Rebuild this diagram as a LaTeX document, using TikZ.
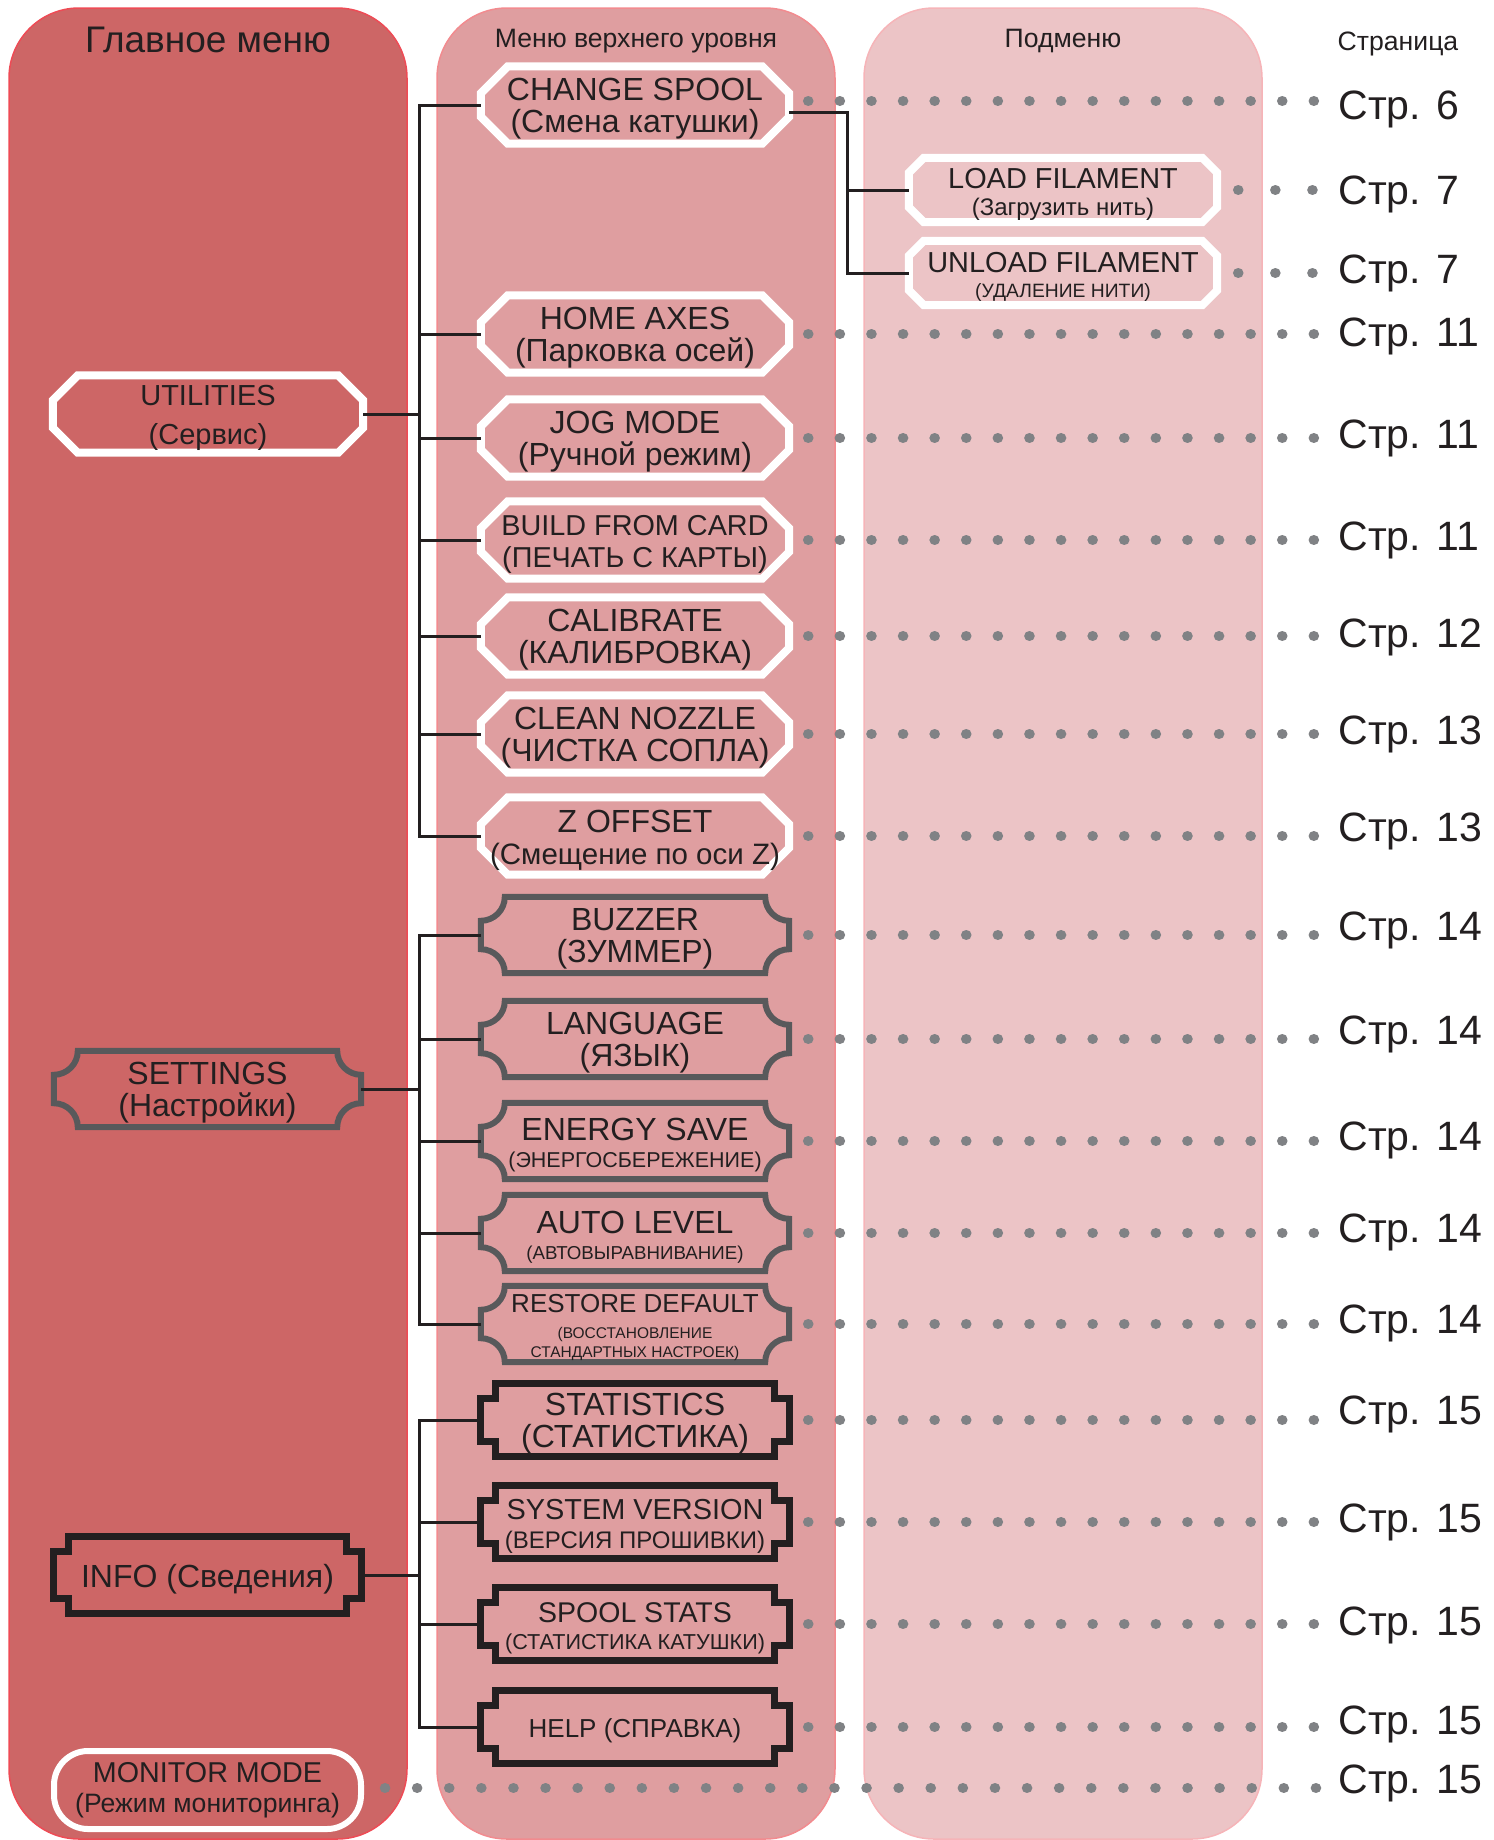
\documentclass[tikz,border=0pt]{standalone}
\usepackage{fontspec}
\setmainfont{Liberation Sans}
\usetikzlibrary{calc,backgrounds}

\definecolor{colA}{HTML}{CD6666}
\definecolor{colB}{HTML}{DF9EA0}
\definecolor{colC}{HTML}{ECC4C6}
\definecolor{edgeA}{HTML}{EE4B55}
\definecolor{edgeB}{HTML}{F28B8F}
\definecolor{edgeC}{HTML}{F6B4B8}
\definecolor{ink}{HTML}{231F20}
\definecolor{frameS}{HTML}{58595B}
\definecolor{dotc}{HTML}{808285}

\newcommand\fsz[2]{\fontsize{#1}{#2}\selectfont}
% рамки: узел, размер угла, стиль (рамка на 4pt выше текста)
\newcommand\octframe[3]{\path[#3]([xshift=#2pt,yshift=4pt]#1.north west)--([xshift=-#2pt,yshift=4pt]#1.north east)--([yshift=4pt-#2pt]#1.north east)--([yshift=4pt+#2pt]#1.south east)--([xshift=-#2pt,yshift=4pt]#1.south east)--([xshift=#2pt,yshift=4pt]#1.south west)--([yshift=4pt+#2pt]#1.south west)--([yshift=4pt-#2pt]#1.north west)--cycle}
\newcommand\ticketframe[3]{\path[#3]([xshift=#2pt,yshift=4pt]#1.north west)--([xshift=-#2pt,yshift=4pt]#1.north east)arc[start angle=180,end angle=270,radius=#2pt]--([yshift=4pt+#2pt]#1.south east)arc[start angle=90,end angle=180,radius=#2pt]--([xshift=#2pt,yshift=4pt]#1.south west)arc[start angle=0,end angle=90,radius=#2pt]--([yshift=4pt-#2pt]#1.north west)arc[start angle=270,end angle=360,radius=#2pt]--cycle}
\newcommand\notchframe[3]{\path[#3]([xshift=#2pt,yshift=4pt]#1.north west)--([xshift=-#2pt,yshift=4pt]#1.north east)--([xshift=-#2pt,yshift=4pt-#2pt]#1.north east)--([yshift=4pt-#2pt]#1.north east)--([yshift=4pt+#2pt]#1.south east)--([xshift=-#2pt,yshift=4pt+#2pt]#1.south east)--([xshift=-#2pt,yshift=4pt]#1.south east)--([xshift=#2pt,yshift=4pt]#1.south west)--([xshift=#2pt,yshift=4pt+#2pt]#1.south west)--([yshift=4pt+#2pt]#1.south west)--([yshift=4pt-#2pt]#1.north west)--([xshift=#2pt,yshift=4pt-#2pt]#1.north west)--cycle}

\begin{document}
\begin{tikzpicture}[x=1pt,y=1pt,
    box/.style={minimum width=308pt,minimum height=76pt,inner sep=0pt,align=center,text=ink,font=\fsz{32}{32}},
    head/.style={text=ink,font=\fsz{26.6}{28}},
    page/.style={anchor=west,text=ink,font=\fsz{41}{43}},
    wire/.style={draw=ink,line width=3pt},
    leader/.style={draw=dotc,line width=10.5pt,line cap=round,dash pattern=on 0.1pt off 31.5pt}]
    \useasboundingbox(0,0)rectangle(1494,-1840);
    %колонки
    \begin{scope}[on background layer]
    \path[draw=edgeA,fill=colA,line width=1.5pt,rounded corners=70pt](9,-8)rectangle(407,-1839);
    \path[draw=edgeB,fill=colB,line width=1.5pt,rounded corners=70pt](437,-8)rectangle(835,-1839);
    \path[draw=edgeC,fill=colC,line width=1.5pt,rounded corners=70pt](864,-8)rectangle(1262,-1839);
    \end{scope}
    \node[head,font=\fsz{37}{39}](hA)at(208,-40){Главное меню};
    \node[head](hB)at(636,-41){Меню верхнего уровня};
    \node[head](hC)at(1063,-41){Подменю};
    \node[head](hD)at(1398,-44){Страница};
    %главное меню
    \node[box,minimum width=310pt,minimum height=77pt](util)at(208,-418){\fsz{29}{29}UTILITIES\\[7pt]\fsz{29}{29}(Сервис)};
    \node[box,minimum width=307pt](set)at(207.5,-1093){SETTINGS\\(Настройки)};
    \node[box,minimum width=307pt,minimum height=77pt](info)at(207.5,-1579){INFO (Сведения)};
    \node[box,minimum width=307pt,minimum height=78pt,draw=white,line width=6pt,rounded corners=34pt](mon)at(207.5,-1790){\fsz{28.7}{29}MONITOR MODE\\[-1.5pt]\fsz{26.6}{27}(Режим мониторинга)};
    %меню верхнего уровня
    \node[box,minimum height=77pt](chg)at(635,-109){CHANGE SPOOL\\(Смена катушки)};
    \node[box,minimum height=77pt](home)at(635,-338){HOME AXES\\(Парковка осей)};
    \node[box,minimum height=77pt](jog)at(635,-442){JOG MODE\\(Ручной режим)};
    \node[box,minimum height=77pt](build)at(635,-544){\fsz{28.8}{29}BUILD FROM CARD\\\fsz{28.8}{29}(ПЕЧАТЬ С КАРТЫ)};
    \node[box,minimum height=77pt](calib)at(635,-640){CALIBRATE\\(КАЛИБРОВКА)};
    \node[box,minimum height=77pt](clean)at(635,-738){CLEAN NOZZLE\\(ЧИСТКА СОПЛА)};
    \node[box,minimum height=77pt](zoff)at(635,-840){Z OFFSET\\\fsz{29.5}{30}(Смещение по оси Z)};
    \node[box](buzz)at(635,-939){BUZZER\\(ЗУММЕР)};
    \node[box](lang)at(635,-1043){LANGUAGE\\(ЯЗЫК)};
    \node[box](energy)at(635,-1145){ENERGY SAVE\\[-5pt]\fsz{21.5}{22}(ЭНЕРГОСБЕРЕЖЕНИЕ)};
    \node[box](auto)at(635,-1237){AUTO LEVEL\\[-6pt]\fsz{18.7}{19}(АВТОВЫРАВНИВАНИЕ)};
    \node[box](restore)at(635,-1328){\fsz{26}{26}RESTORE DEFAULT\\[-6pt]\fsz{15.5}{16}(ВОССТАНОВЛЕНИЕ\\[-13pt]\fsz{15.5}{16}СТАНДАРТНЫХ НАСТРОЕК)};
    \node[box,minimum height=73pt](stats)at(635,-1424){STATISTICS\\(СТАТИСТИКА)};
    \node[box,minimum height=73pt](sysver)at(635,-1526){\fsz{28.9}{29}SYSTEM VERSION\\[-3pt]\fsz{24}{24}(ВЕРСИЯ ПРОШИВКИ)};
    \node[box,minimum height=73pt](spool)at(635,-1628){\fsz{28.5}{29}SPOOL STATS\\[-5pt]\fsz{21.6}{22}(СТАТИСТИКА КАТУШКИ)};
    \node[box,minimum height=73pt](help)at(635,-1731){\fsz{26}{26}HELP (СПРАВКА)};
    %подменю
    \node[box,minimum height=64pt](load)at(1063,-194){\fsz{28.9}{29}LOAD FILAMENT\\[-5pt]\fsz{24}{24}(Загрузить нить)};
    \node[box,minimum height=64pt](unload)at(1063,-277){\fsz{28.9}{29}UNLOAD FILAMENT\\[-7pt]\fsz{19.3}{20}(УДАЛЕНИЕ НИТИ)};
    %рамки (под текстом)
    \begin{scope}[on background layer]
    \foreach \n in {chg,home,jog,build,calib,clean,zoff} \octframe{\n}{27}{draw=white,line width=8pt};
    \octframe{util}{25}{draw=white,line width=8pt};
    \foreach \n in {load,unload} \octframe{\n}{15}{draw=white,line width=8pt};
    \foreach \n in {set,buzz,lang,energy,auto,restore} \ticketframe{\n}{24}{draw=frameS,line width=6pt};
    \foreach \n in {info,stats,sysver,spool,help} \notchframe{\n}{15}{draw=ink,line width=7pt};
    \end{scope}
    %связи
    \foreach \n in {chg,home,jog,build,calib,clean,zoff} \path[wire]([yshift=4pt]util.east)--++(56,0)|-([yshift=4pt]\n.west);
    \foreach \n in {buzz,lang,energy,auto,restore} \path[wire]([yshift=4pt]set.east)--++(58,0)|-([yshift=4pt]\n.west);
    \foreach \n in {stats,sysver,spool,help} \path[wire]([yshift=4pt]info.east)--++(58,0)|-([yshift=4pt]\n.west);
    \foreach \n in {load,unload} \path[wire]([yshift=-3pt]chg.east)--++(58,0)|-([yshift=4pt]\n.west);
    %страницы
    \node[page](p1)at(1335,-109){Стр. 6};
    \node[page](p2)at(1335,-194){Стр. 7};
    \node[page](p3)at(1335,-273){Стр. 7};
    \node[page](p4)at(1335,-336){Стр. 11};
    \node[page](p5)at(1335,-438){Стр. 11};
    \node[page](p6)at(1335,-540){Стр. 11};
    \node[page](p7)at(1335,-637){Стр. 12};
    \node[page](p8)at(1335,-734){Стр. 13};
    \node[page](p9)at(1335,-831){Стр. 13};
    \node[page](p10)at(1335,-930){Стр. 14};
    \node[page](p11)at(1335,-1034){Стр. 14};
    \node[page](p12)at(1335,-1140){Стр. 14};
    \node[page](p13)at(1335,-1232){Стр. 14};
    \node[page](p14)at(1335,-1323){Стр. 14};
    \node[page](p15)at(1335,-1414){Стр. 15};
    \node[page](p16)at(1335,-1522){Стр. 15};
    \node[page](p17)at(1335,-1625){Стр. 15};
    \node[page](p18)at(1335,-1724){Стр. 15};
    \node[page](p19)at(1335,-1783){Стр. 15};
    %точки
    \foreach \n/\p in {home/p4,jog/p5,build/p6,calib/p7,clean/p8,zoff/p9,buzz/p10,lang/p11,energy/p12,auto/p13,restore/p14,stats/p15,sysver/p16,spool/p17,help/p18}
        \path[leader]([xshift=19pt,yshift=4pt]\n.east)to($(\n.east -| \p.west)+(-17,4)$);
    \path[leader]([xshift=19pt,yshift=8pt]chg.east)to($(chg.east -| p1.west)+(-17,8)$);
    \foreach \n/\p in {load/p2,unload/p3}
        \path[leader,dash pattern=on 0.1pt off 37pt]([xshift=21pt,yshift=4pt]\n.east)to($(\n.east -| \p.west)+(-17,4)$);
    \path[leader,dash pattern=on 0.1pt off 32pt]([xshift=21pt,yshift=2pt]mon.east)to($(mon.east -| p19.west)+(-17,2)$);
\end{tikzpicture}
\end{document}
